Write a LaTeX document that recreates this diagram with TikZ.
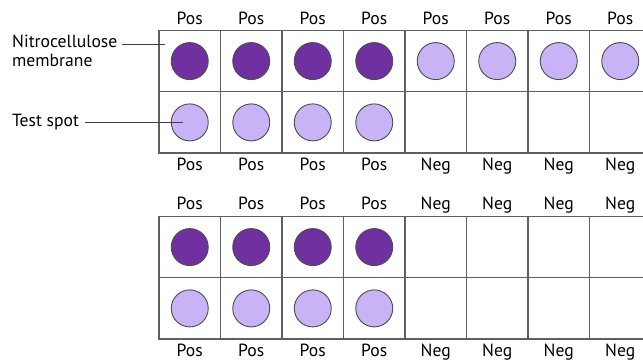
\documentclass[tikz,border=0pt]{standalone}
\usepackage{fontspec}
\setmainfont{PT Sans}
\usetikzlibrary{positioning}
\definecolor{darkspot}{RGB}{112,48,160}
\definecolor{lightspot}{RGB}{199,179,246}
\definecolor{gridgray}{RGB}{95,95,95}
\tikzset{
  spot/.style={circle,draw=black!70,line width=0.9pt,minimum size=37pt,inner sep=0pt},
  darkdot/.style={spot,fill=darkspot},
  lightdot/.style={spot,fill=lightspot},
  lbl/.style={font=\fontsize{17.6}{19.5}\selectfont,anchor=base,inner sep=0pt},
  leader/.style={draw=black!75,line width=0.9pt},
}
\begin{document}
\begin{tikzpicture}[x=1pt,y=-1pt]
    \useasboundingbox (0,0) rectangle (643,363);
    \clip (0,0) rectangle (643,363);
    % --- strip outline: 2 rows x 8 cells ---
    \def\strip{(0,0) rectangle (492,122.5) (0,61.25) -- (492,61.25)
      foreach \i in {1,...,7} {(61.5*\i,0) -- (61.5*\i,122.5)}};
    \draw[gridgray,line width=1.2pt,shift={(159,30.5)}] \strip;
    \draw[gridgray,line width=1.2pt,shift={(159,216.5)}] \strip;

    % --- FIRST STRIP (TOP) ---
    \foreach \i in {1,...,4}
      \node[darkdot] (ta\i) at (128.25+61.5*\i,61.1) {};
    \foreach \i in {5,...,8}
      \node[lightdot] (ta\i) at (128.25+61.5*\i,61.1) {};
    \foreach \i in {1,...,4}
      \node[lightdot] (tb\i) at (128.25+61.5*\i,122.4) {};
    \foreach \i in {1,...,8}
      \node[lbl] (tpos\i) at (128.25+61.5*\i,24.3) {Pos};
    \foreach \i/\t in {1/Pos,2/Pos,3/Pos,4/Pos,5/Neg,6/Neg,7/Neg,8/Neg}
      \node[lbl] (tres\i) at (128.25+61.5*\i,171) {\t};

    % --- SECOND STRIP (BOTTOM) ---
    \foreach \i in {1,...,4}
      \node[darkdot] (ba\i) at (128.25+61.5*\i,247.1) {};
    \foreach \i in {1,...,4}
      \node[lightdot] (bb\i) at (128.25+61.5*\i,308.4) {};
    \foreach \i/\t in {1/Pos,2/Pos,3/Pos,4/Pos,5/Neg,6/Neg,7/Neg,8/Neg}
      \node[lbl] (bctl\i) at (128.25+61.5*\i,210) {\t};
    \foreach \i/\t in {1/Pos,2/Pos,3/Pos,4/Pos,5/Neg,6/Neg,7/Neg,8/Neg}
      \node[lbl] (bres\i) at (128.25+61.5*\i,356.7) {\t};

    % --- callouts ---
    \node[lbl,anchor=base west,align=left] (membrane) at (12,67)
      {Nitrocellulose\\membrane};
    \node[lbl,anchor=base west] (testspot) at (12,127) {Test spot};
    \coordinate (memtip) at (165,44);
    \draw[leader] (memtip -| membrane.east) ++(4,0) -- (memtip);
    \draw[leader] ([xshift=6pt]testspot.east |- tb1.center) -- ([xshift=-7pt]tb1.center);
\end{tikzpicture}
\end{document}
